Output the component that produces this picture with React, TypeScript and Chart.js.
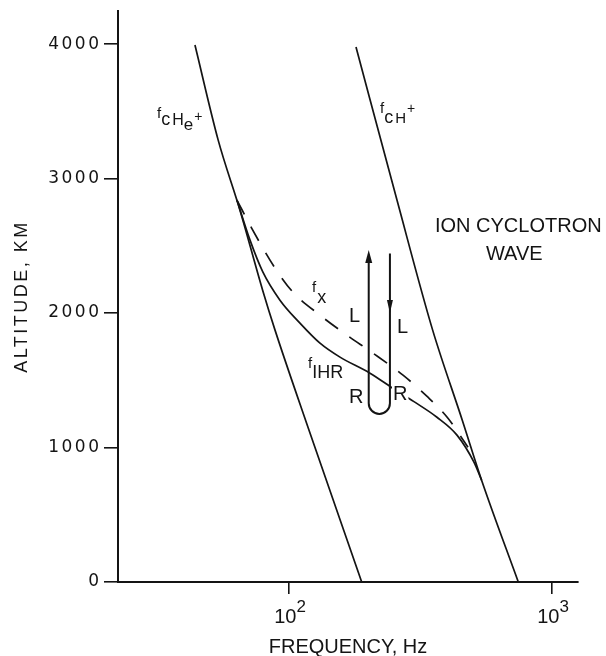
import React, { useEffect, useRef } from 'react';
import { Chart, registerables } from 'chart.js';

Chart.register(...registerables);

// ---- data (frequency in Hz, altitude in km) ----
const fcHeFreq = [43.9, 53.8, 65.1, 79.4, 88.5, 118.1, 189];
const fcHeAlt = [3993, 3286, 2765, 2170, 1873, 1151, 0];

const fcHFreq = [179.8, 257.4, 351.8, 456, 540, 744.6];
const fcHAlt = [3978, 2840, 1873, 1203, 757, 0];

const fIHRFreq = [63.4, 71.1, 79.6, 92.4, 110.1, 131.2, 156.3, 203.2, 246.4, 298.7, 365.3, 435.3, 505, 540];
const fIHRAlt = [2840, 2542, 2304, 2096, 1925, 1776, 1672, 1553, 1445, 1341, 1225, 1092, 891, 757];

const fxFreq = [63.4, 72.1, 88.5, 103.6, 131.2, 166.2, 208.6, 271.4, 337.6, 402.3, 446.8, 479.3];
const fxAlt = [2840, 2632, 2334, 2155, 1984, 1835, 1702, 1538, 1374, 1218, 1091, 1002];

// ray path (up / down legs of the wave)
const upArrowFreq = 201;
const downArrowFreq = 242;
const upArrowTopAlt = 2468;
const downArrowTopAlt = 2443;
const downHeadAlt = 2000;
const loopTurnAlt = 1329;

// axes
const xMin = 22.38;
const xMax = 1255.8;
const yMin = 0;
const yMax = 4246;
const yTickValues = [0, 1000, 2000, 3000, 4000];
const xTickValues = [100, 1000];
const xTickMantissa = ['10', '10'];
const xTickExponent = ['2', '3'];

const xTitle = 'FREQUENCY, Hz';
const yTitle = 'ALTITUDE, KM';

// annotation texts, anchored in data coordinates
type Part = [string, number, number, number]; // text, size, gap before, baseline offset
const curveLabels: { f: number; alt: number; parts: Part[] }[] = [
  { f: 31.5, alt: 3450, parts: [['f', 15, 0, 0], ['c', 18, 0, 7], ['H', 16, 2, 7], ['e', 17, 0, 12], ['+', 14, 1, 3]] },
  { f: 221.8, alt: 3487, parts: [['f', 15, 0, 0], ['c', 18, 0, 10], ['H', 15, 2, 10], ['+', 14, 1, 0]] },
  { f: 122.3, alt: 2155, parts: [['f', 15, 0, 0], ['x', 18, 1, 11]] },
  { f: 118.1, alt: 1590, parts: [['f', 15, 0, 0], ['IHR', 18, 0, 10]] },
];
const modeLabels: { text: string; f: number; alt: number; knockout: boolean }[] = [
  { text: 'L', f: 169.1, alt: 1932, knockout: false },
  { text: 'L', f: 257.4, alt: 1850, knockout: false },
  { text: 'R', f: 169.1, alt: 1330, knockout: false },
  { text: 'R', f: 248.6, alt: 1352, knockout: true },
];
const regionLabels: { text: string; f: number; alt: number }[] = [
  { text: 'ION CYCLOTRON', f: 744.6, alt: 2602 },
  { text: 'WAVE', f: 718.5, alt: 2394 },
];

const INK = '#141414';
const FONT = '"Liberation Sans", Arial, sans-serif';

const zip = (xs: number[], ys: number[]) => xs.map((x, i) => ({ x, y: ys[i] }));

// wider letter spacing for the y axis (drawn before the datasets); reset afterwards
const textSpacingPlugin = {
  id: 'textSpacing',
  beforeDraw(chart: any) {
    chart.ctx.letterSpacing = '2.5px';
  },
  beforeDatasetsDraw(chart: any) {
    chart.ctx.letterSpacing = '0px';
  },
};

const annotationPlugin = {
  id: 'annotations',
  afterDraw(chart: any) {
    const { ctx, scales } = chart;
    const xs = scales.x;
    const ys = scales.y;
    ctx.save();
    ctx.letterSpacing = '0px';
    ctx.strokeStyle = INK;
    ctx.fillStyle = INK;

    // ray loop
    const ux = xs.getPixelForValue(upArrowFreq);
    const dx = xs.getPixelForValue(downArrowFreq);
    const upTop = ys.getPixelForValue(upArrowTopAlt);
    const dTop = ys.getPixelForValue(downArrowTopAlt);
    const turnY = ys.getPixelForValue(loopTurnAlt);
    const headY = ys.getPixelForValue(downHeadAlt);
    const cx = (ux + dx) / 2;
    const r = (dx - ux) / 2;
    ctx.lineWidth = 2;
    ctx.lineCap = 'butt';
    ctx.beginPath();
    ctx.moveTo(dx, dTop);
    ctx.lineTo(dx, turnY);
    ctx.arc(cx, turnY, r, 0, Math.PI, false);
    ctx.lineTo(ux, upTop + 8);
    ctx.stroke();
    ctx.beginPath();
    ctx.moveTo(ux, upTop);
    ctx.lineTo(ux - 3.5, upTop + 13);
    ctx.lineTo(ux + 3.5, upTop + 13);
    ctx.closePath();
    ctx.fill();
    ctx.beginPath();
    ctx.moveTo(dx, headY);
    ctx.lineTo(dx - 3, headY - 13);
    ctx.lineTo(dx + 3, headY - 13);
    ctx.closePath();
    ctx.fill();

    // curve labels with sub/superscripts
    ctx.textAlign = 'left';
    ctx.textBaseline = 'alphabetic';
    for (const lab of curveLabels) {
      let px = xs.getPixelForValue(lab.f);
      const py = ys.getPixelForValue(lab.alt);
      for (const [text, size, gap, dy] of lab.parts) {
        px += gap;
        ctx.font = `${size}px ${FONT}`;
        ctx.fillText(text, px, py + dy);
        px += ctx.measureText(text).width;
      }
    }

    // L / R mode labels
    ctx.font = `20px ${FONT}`;
    for (const lab of modeLabels) {
      const px = xs.getPixelForValue(lab.f);
      const py = ys.getPixelForValue(lab.alt);
      if (lab.knockout) {
        const w = ctx.measureText(lab.text).width;
        ctx.fillStyle = '#ffffff';
        ctx.fillRect(px - 1, py - 16, w + 2, 18);
        ctx.fillStyle = INK;
      }
      ctx.fillText(lab.text, px, py);
    }

    // region label
    ctx.textAlign = 'center';
    for (const lab of regionLabels) {
      ctx.fillText(lab.text, xs.getPixelForValue(lab.f), ys.getPixelForValue(lab.alt));
    }

    // x tick labels with exponent
    ctx.textAlign = 'left';
    xs.ticks.forEach((t: any) => {
      const i = xTickValues.indexOf(t.value);
      if (i < 0) return;
      const px = xs.getPixelForValue(t.value);
      ctx.font = `20px ${FONT}`;
      const w1 = ctx.measureText(xTickMantissa[i]).width;
      ctx.font = `17px ${FONT}`;
      const w2 = ctx.measureText(xTickExponent[i]).width;
      const start = px + 1 - (w1 + w2) / 2;
      ctx.font = `20px ${FONT}`;
      ctx.fillText(xTickMantissa[i], start, xs.top + 41);
      ctx.font = `17px ${FONT}`;
      ctx.fillText(xTickExponent[i], start + w1, xs.top + 30);
    });

    ctx.restore();
  },
};

export default function App() {
  const ref = useRef<HTMLCanvasElement | null>(null);

  useEffect(() => {
    document.body.style.margin = '0';
    const lineStyle = {
      showLine: true,
      pointRadius: 0,
      borderColor: INK,
      borderWidth: 1.7,
      cubicInterpolationMode: 'monotone' as const,
      fill: false,
    };
    const chart = new Chart(ref.current as HTMLCanvasElement, {
      type: 'scatter',
      data: {
        datasets: [
          { ...lineStyle, label: 'fcHe+', data: zip(fcHeFreq, fcHeAlt) },
          { ...lineStyle, label: 'fcH+', data: zip(fcHFreq, fcHAlt) },
          { ...lineStyle, label: 'fIHR', data: zip(fIHRFreq, fIHRAlt) },
          { ...lineStyle, label: 'fx', data: zip(fxFreq, fxAlt), borderDash: [16, 14] },
        ],
      },
      options: {
        animation: false,
        responsive: false,
        maintainAspectRatio: false,
        events: [],
        layout: { padding: { top: 11, right: 28, left: 0, bottom: 0 } },
        plugins: {
          legend: { display: false },
          tooltip: { enabled: false },
        },
        scales: {
          x: {
            type: 'logarithmic',
            position: 'bottom',
            min: xMin,
            max: xMax,
            afterFit(s: any) {
              s.height = 74;
              s.paddingLeft = 0;
              s.paddingRight = 0;
            },
            afterBuildTicks(s: any) {
              s.ticks = xTickValues.map((v) => ({ value: v }));
            },
            ticks: { display: false, z: 1 },
            grid: {
              z: 1,
              drawOnChartArea: false,
              drawTicks: true,
              tickLength: 12,
              color: INK,
              lineWidth: 1.6,
            },
            border: { display: true, color: INK, width: 2, z: 1 },
            title: {
              display: true,
              text: xTitle,
              color: INK,
              font: { family: FONT, size: 20, lineHeight: 0.85 },
              padding: { top: 0, bottom: 0 },
            },
          },
          y: {
            type: 'linear',
            position: 'left',
            min: yMin,
            max: yMax,
            afterFit(s: any) {
              s.width = 118;
              s.paddingTop = 0;
              s.paddingBottom = 0;
            },
            afterBuildTicks(s: any) {
              s.ticks = yTickValues.map((v) => ({ value: v }));
            },
            ticks: {
              color: INK,
              padding: 2.5,
              font: { family: '"DejaVu Sans", sans-serif', size: 17 },
              callback: (v: any) => String(v),
            },
            grid: {
              drawOnChartArea: false,
              drawTicks: true,
              tickLength: 14,
              color: INK,
              lineWidth: 1.6,
            },
            border: { display: true, color: INK, width: 2 },
            title: {
              display: true,
              text: yTitle,
              color: INK,
              font: { family: FONT, size: 18 },
              padding: { top: 11, bottom: 0 },
            },
          },
        },
      },
      plugins: [textSpacingPlugin, annotationPlugin],
    } as any);
    return () => chart.destroy();
  }, []);

  return (
    <canvas
      ref={ref}
      width={606}
      height={656}
      style={{ display: 'block', width: 606, height: 656 }}
    />
  );
}
